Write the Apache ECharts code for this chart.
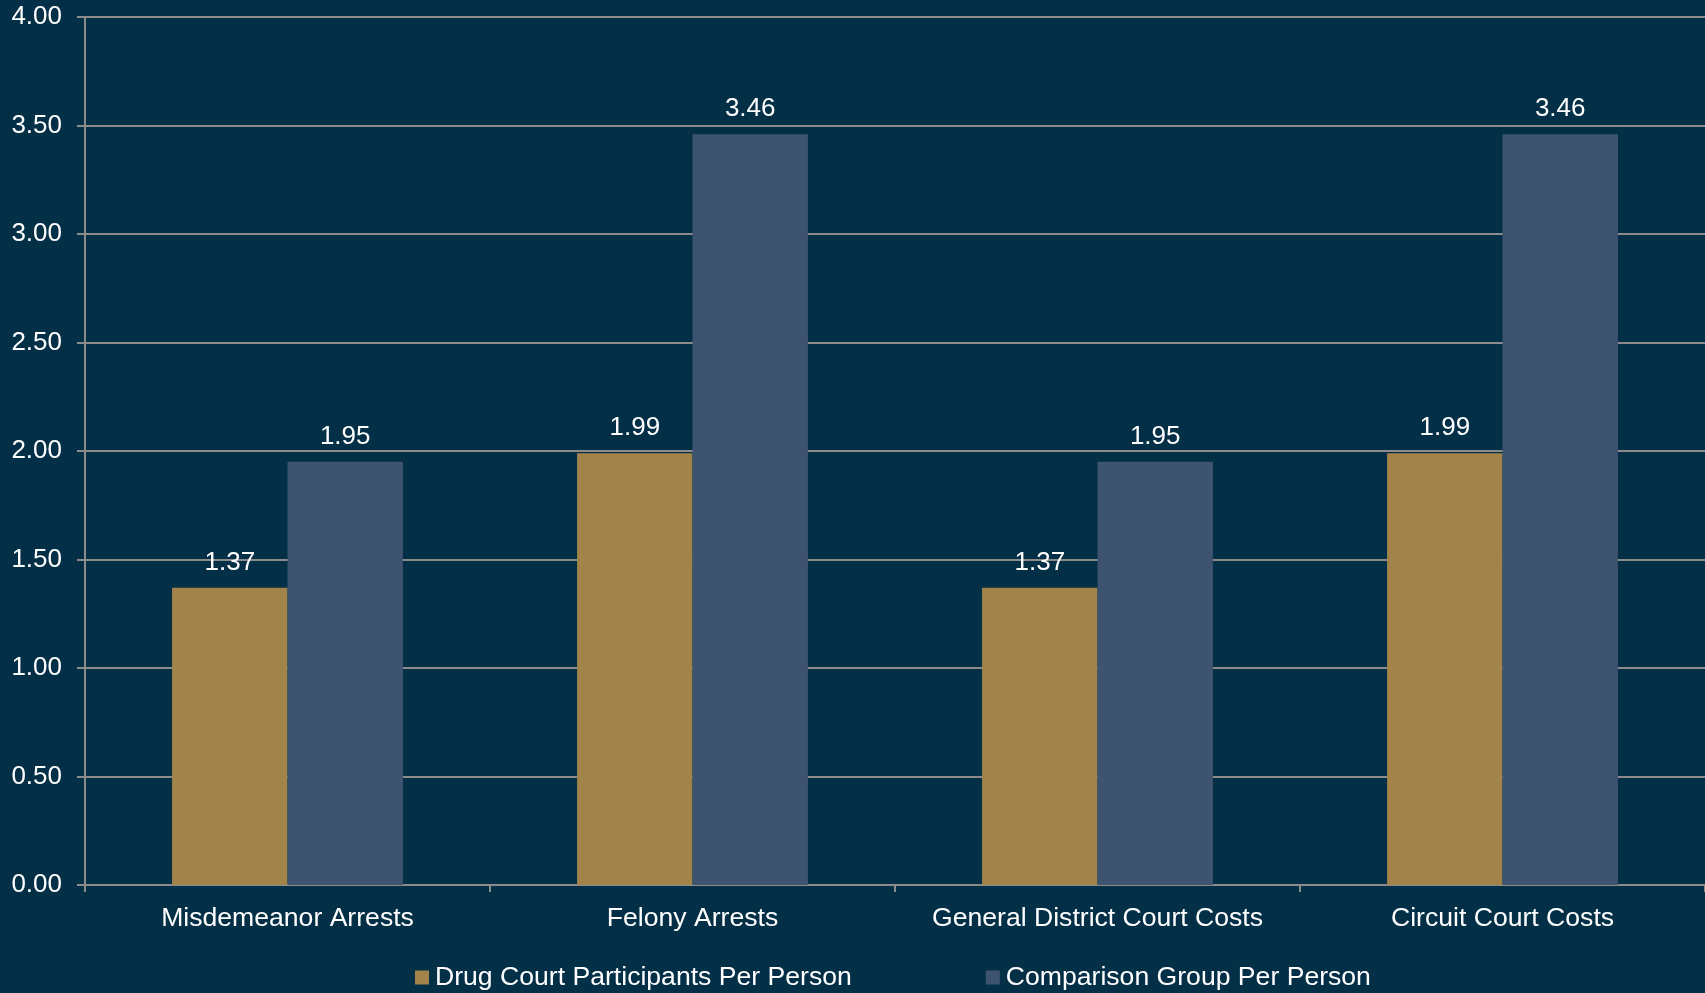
<!DOCTYPE html>
<html>
<head>
<meta charset="utf-8">
<title>Drug Court Cost Comparison</title>
<script src="https://cdn.jsdelivr.net/npm/echarts@6/dist/echarts.min.js"></script>
<style>
  html, body { margin: 0; padding: 0; background: #032F47; }
  #chart { width: 1705px; height: 993px; }
</style>
</head>
<body>
<div id="chart"></div>
<script>
// Categories along the x axis
const categories = [
  'Misdemeanor Arrests',
  'Felony Arrests',
  'General District Court Costs',
  'Circuit Court Costs'
];

// Series names and their values per category
const seriesNames = ['Drug Court Participants Per Person', 'Comparison Group Per Person'];
const drugCourtValues = [1.37, 1.99, 1.37, 1.99];
const comparisonValues = [1.95, 3.46, 1.95, 3.46];

// Value axis range
const yMin = 0;
const yMax = 4;
const yStep = 0.5;

const FONT = '"Liberation Sans", Arial, sans-serif';
const TEXT = '#FFFFFF';
const GRID = '#8C8C8C';

const labelStyle = {
  show: true,
  position: 'top',
  distance: 12,
  color: TEXT,
  fontFamily: FONT,
  fontSize: 26,
  formatter: p => p.value.toFixed(2)
};

const chart = echarts.init(document.getElementById('chart'), null, { renderer: 'canvas' });

chart.setOption({
  backgroundColor: '#032F47',
  animation: false,
  textStyle: { fontFamily: FONT },
  grid: { left: 85, right: 0, top: 17, bottom: 108, containLabel: false },
  legend: {
    data: seriesNames,
    left: 410,
    top: 959,
    itemWidth: 14,
    itemHeight: 14,
    itemGap: 134,
    icon: 'rect',
    textStyle: { color: TEXT, fontSize: 26.6, fontFamily: FONT, padding: [0, 0, 0, 1] }
  },
  xAxis: {
    type: 'category',
    data: categories,
    axisLine: { lineStyle: { color: GRID, width: 2 } },
    axisTick: { show: true, length: 7, alignWithLabel: false, lineStyle: { color: GRID, width: 2 } },
    axisLabel: { color: TEXT, fontSize: 26.6, fontFamily: FONT, margin: 20, interval: 0 },
    splitLine: { show: false }
  },
  yAxis: {
    type: 'value',
    min: yMin,
    max: yMax,
    interval: yStep,
    axisLine: { show: true, lineStyle: { color: GRID, width: 2 } },
    axisTick: { show: true, length: 8, lineStyle: { color: GRID, width: 2 } },
    axisLabel: {
      color: TEXT, fontSize: 26, fontFamily: FONT, margin: 23,
      formatter: v => v.toFixed(2)
    },
    splitLine: { show: true, lineStyle: { color: GRID, width: 2 } }
  },
  series: [
    {
      name: seriesNames[0],
      type: 'bar',
      data: drugCourtValues,
      barGap: '0%',
      barCategoryGap: '43%',
      itemStyle: { color: '#A2844A' },
      label: labelStyle
    },
    {
      name: seriesNames[1],
      type: 'bar',
      data: comparisonValues,
      barGap: '0%',
      barCategoryGap: '43%',
      itemStyle: { color: '#3E5370' },
      label: labelStyle
    }
  ]
});
</script>
</body>
</html>
